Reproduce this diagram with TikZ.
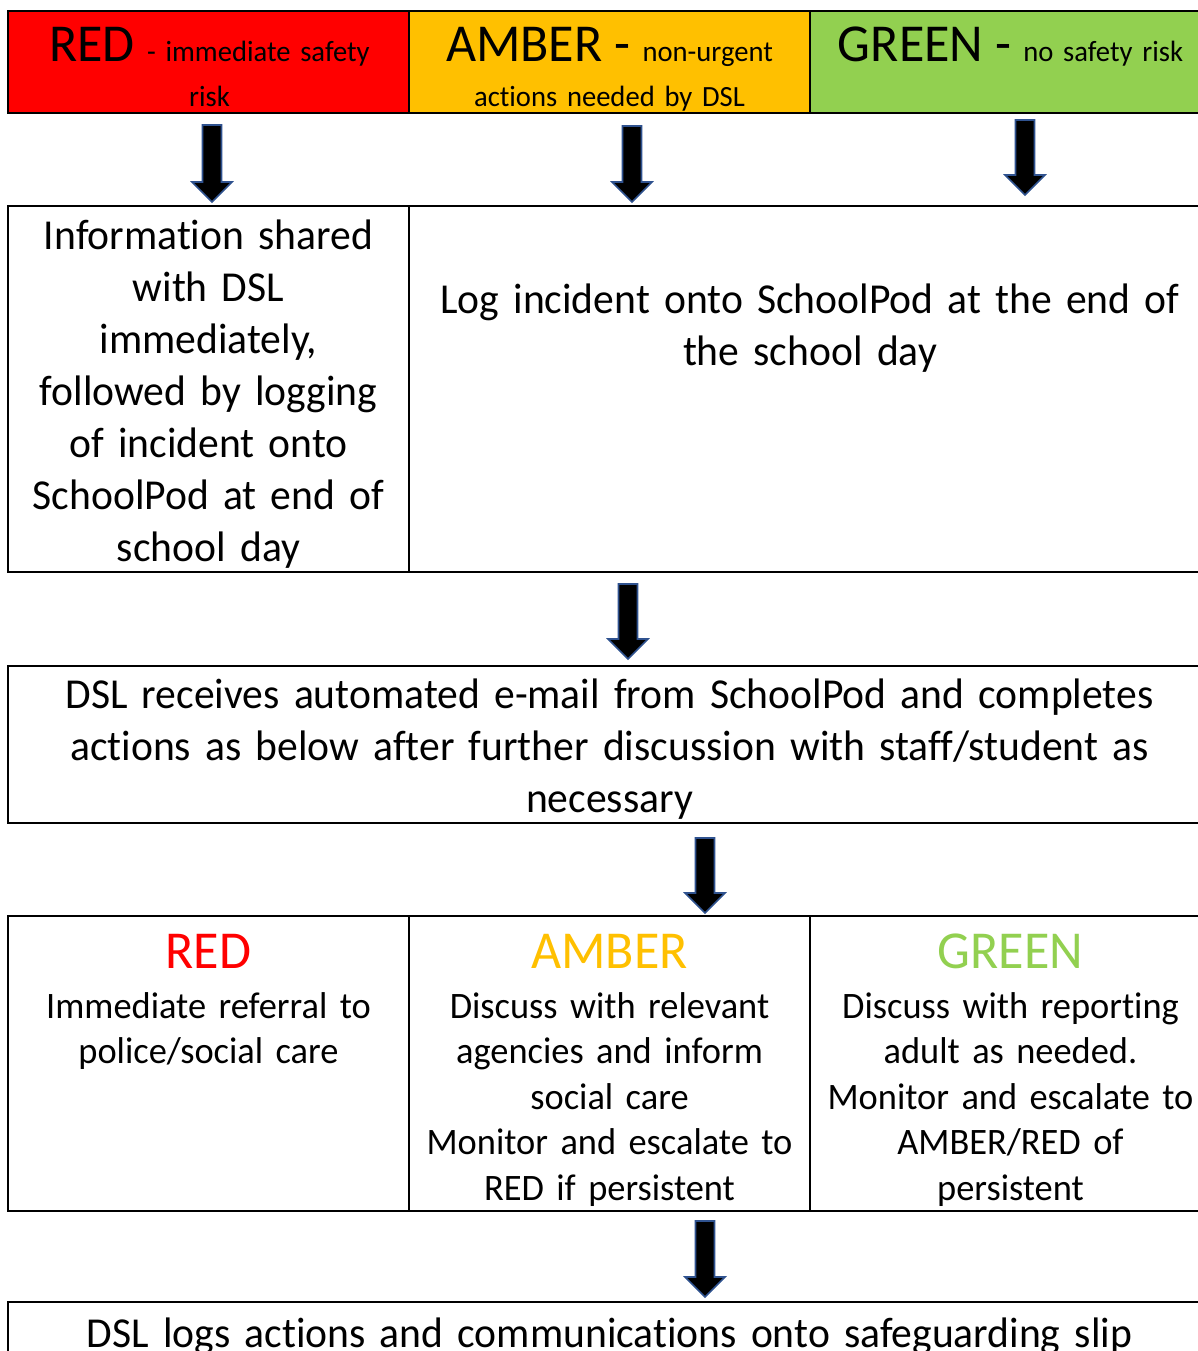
\documentclass[tikz,border=0pt]{standalone}
\usepackage{fontspec}
\setmainfont{Carlito}[Ligatures=NoCommon, FakeStretch=0.975]
\definecolor{cred}{HTML}{FF0000}
\definecolor{camber}{HTML}{FFC000}
\definecolor{cgreen}{HTML}{92D050}
\definecolor{arrowedge}{HTML}{2F528F}
\newcommand{\nostretch}{\spaceskip=0.226em\relax\xspaceskip=0.226em\relax}
\newcommand{\fbig}{\fontsize{53.33}{60}\selectfont\nostretch}
\newcommand{\fsmall}{\fontsize{29.33}{44.5}\selectfont\nostretch}
\newcommand{\fbody}{\fontsize{42.67}{52}\selectfont\nostretch}
\newcommand{\frow}{\fontsize{37.33}{45.6}\selectfont\nostretch}
\newcommand{\blockarrow}[3]{\draw[barrow] (#1-9.5,#2) -- (#1+9.5,#2) -- (#1+9.5,#3-20) -- (#1+20,#3-20) -- (#1,#3) -- (#1-20,#3-20) -- (#1-9.5,#3-20) -- cycle;}
\begin{document}
\begin{tikzpicture}[x=1pt,y=-1pt,
  cell/.style={draw=black, line width=1.6pt, anchor=north west, inner sep=0pt, outer sep=0pt},
  frame/.style={draw=black, line width=2.4pt},
  txt/.style={anchor=base, inner sep=0pt, align=center, text width=400pt},
  barrow/.style={draw=arrowedge, fill=black, line width=1.6pt, line join=miter}]
\useasboundingbox (0,0) rectangle (1198,1351);
\fill[white] (0,0) rectangle (1198,1351);
\clip (0,0) rectangle (1198,1351);

% header row
\node[cell, fill=cred, minimum width=401pt, minimum height=102pt] (hred) at (8,11) {};
\node[cell, fill=camber, minimum width=401pt, minimum height=102pt] (hamber) at (409,11) {};
\node[cell, fill=cgreen, minimum width=401pt, minimum height=102pt] (hgreen) at (810,11) {};
\draw[frame] (hred.north west) rectangle (hgreen.south east);

\node[txt, font=\fsmall] (tred) at (209.5,62) {{\fbig RED }- immediate safety\\risk};
\node[txt, font=\fsmall] (tamber) at (609.5,62) {{\fbig AMBER - }non-urgent\\actions needed by DSL};
\node[txt, font=\fsmall] (tgreen) at (1010.5,62) {{\fbig GREEN - }no safety risk};

% row 2
\node[cell, minimum width=401pt, minimum height=366pt] (cinfo) at (8,206) {};
\node[cell, minimum width=802pt, minimum height=366pt] (clog) at (409,206) {};
\draw[frame] (cinfo.north west) rectangle (clog.south east);
\node[txt, font=\fbody] (tinfo) at (208.5,249) {Information shared\\with DSL\\immediately,\\followed by logging\\of incident onto\\SchoolPod at end of\\school day};
\node[txt, font=\fbody, text width=780pt] (tlog) at (810,313) {Log incident onto SchoolPod at the end of\\the school day};

% row 3
\node[cell, minimum width=1203pt, minimum height=157pt] (cdsl) at (8,666) {};
\draw[frame] (cdsl.north west) rectangle (cdsl.south east);
\node[txt, font=\fbody, text width=1150pt] (tdsl) at (609.5,708) {DSL receives automated e-mail from SchoolPod and completes\\actions as below after further discussion with staff/student as\\necessary};

% row 4
\node[cell, minimum width=401pt, minimum height=295pt] (cred4) at (8,916) {};
\node[cell, minimum width=401pt, minimum height=295pt] (camber4) at (409,916) {};
\node[cell, minimum width=401pt, minimum height=295pt] (cgreen4) at (810,916) {};
\draw[frame] (cred4.north west) rectangle (cgreen4.south east);
\node[txt, font=\frow] (tred4) at (208.5,968) {{\fbig\color{cred}RED}\\[4.4pt]Immediate referral to\\police/social care};
\node[txt, font=\frow] (tamber4) at (609.5,968) {{\fbig\color{camber}AMBER}\\[4.4pt]Discuss with relevant\\agencies and inform\\social care\\Monitor and escalate to\\RED if persistent};
\node[txt, font=\frow] (tgreen4) at (1010.5,968) {{\fbig\color{cgreen}GREEN}\\[4.4pt]Discuss with reporting\\adult as needed.\\Monitor and escalate to\\AMBER/RED of\\persistent};

% row 5
\node[cell, minimum width=1203pt, minimum height=130pt] (cslip) at (8,1302) {};
\draw[frame] (cslip.north west) rectangle (cslip.south east);
\node[txt, font=\fbody, text width=1150pt] (tslip) at (609.5,1347) {DSL logs actions and communications onto safeguarding slip};

% arrows
\blockarrow{212}{125}{202}
\blockarrow{632}{126}{202}
\blockarrow{1025}{120}{195}
\blockarrow{628}{584}{659}
\blockarrow{705}{838}{913}
\blockarrow{705}{1221}{1297}
\end{tikzpicture}
\end{document}
